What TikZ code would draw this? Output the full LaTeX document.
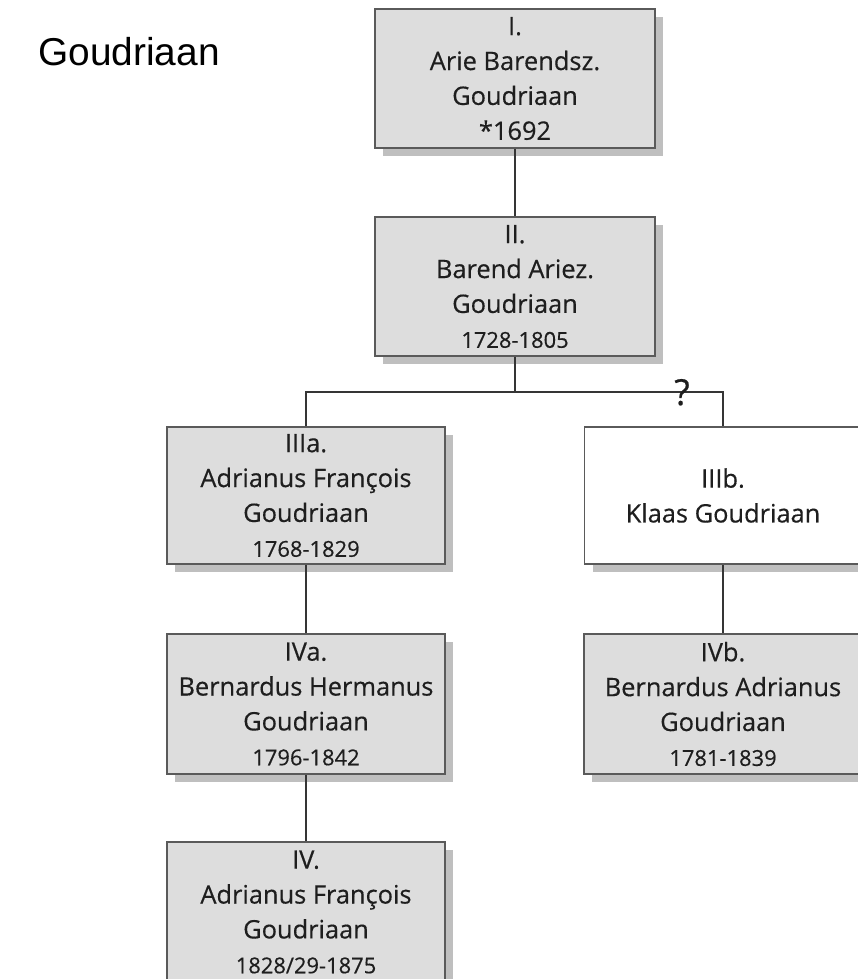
\documentclass[tikz,border=0pt]{standalone}
\usepackage{fontspec}
\setmainfont{Open Sans}[FakeBold=0.4]
\newfontfamily\boxfont{Open Sans}[FakeBold=0.4]
\newfontfamily\titlefont{Liberation Sans}
\definecolor{boxfill}{HTML}{DDDDDD}
\definecolor{boxline}{HTML}{5A5A5A}
\definecolor{shadowgray}{HTML}{BFBFBF}
\definecolor{txt}{HTML}{1E1E1E}
\newcommand{\yrs}[1]{{\fontsize{22}{35}\selectfont #1}}
\tikzset{
  person/.style={rectangle, draw=boxline, line width=1.5bp, fill=boxfill,
    text=txt, align=center, inner sep=0pt,
    font=\boxfont\fontsize{25.5}{35}\selectfont,
    preaction={fill=shadowgray, draw=none, transform canvas={shift={(8bp,-8bp)}}}},
  blank/.style={person, fill=white},
  link/.style={draw=txt!90, line width=1.5bp}
}
\begin{document}
\begin{tikzpicture}[x=1bp, y=-1bp]
\useasboundingbox (0,0) rectangle (858,979);
\node[anchor=base west, font=\titlefont\fontsize{39}{45}\selectfont, text=black, inner sep=0pt] (title) at (38,65) {Goudriaan};

\node[person, minimum width=280bp, minimum height=139bp] (I) at (515,78.5)
  {I.\\Arie Barendsz.\\Goudriaan\\*1692};
\node[person, minimum width=280bp, minimum height=139bp] (II) at (515,286.5)
  {II.\\Barend Ariez.\\Goudriaan\\\yrs{1728-1805}};
\node[person, minimum width=278bp, minimum height=137bp] (IIIa) at (306,495.5)
  {IIIa.\\Adrianus François\\Goudriaan\\\yrs{1768-1829}};
\node[blank, minimum width=277bp, minimum height=137bp] (IIIb) at (723,495.5)
  {IIIb.\\Klaas Goudriaan};
\node[person, minimum width=278bp, minimum height=140bp] (IVa) at (306,704)
  {IVa.\\Bernardus Hermanus\\Goudriaan\\\yrs{1796-1842}};
\node[person, minimum width=278bp, minimum height=140bp] (IVb) at (723,704)
  {IVb.\\Bernardus Adrianus\\Goudriaan\\\yrs{1781-1839}};
\node[person, minimum width=278bp, minimum height=140bp] (IV) at (306,912)
  {IV.\\Adrianus François\\Goudriaan\\\yrs{1828/29-1875}};

\coordinate (j) at (515,392);
\draw[link] (I.south) -- (II.north);
\draw[link] (II.south) -- (j);
\draw[link] (IIIa.north) |- (j) -| (IIIb.north);
\draw[link] (IIIa.south) -- (IVa.north);
\draw[link] (IIIb.south) -- (IVb.north);
\draw[link] (IVa.south) -- (IV.north);
\node[anchor=base, inner sep=0pt, text=txt, font=\boxfont\fontsize{36}{40}\selectfont] (q) at (682,405) {?};
\end{tikzpicture}
\end{document}
